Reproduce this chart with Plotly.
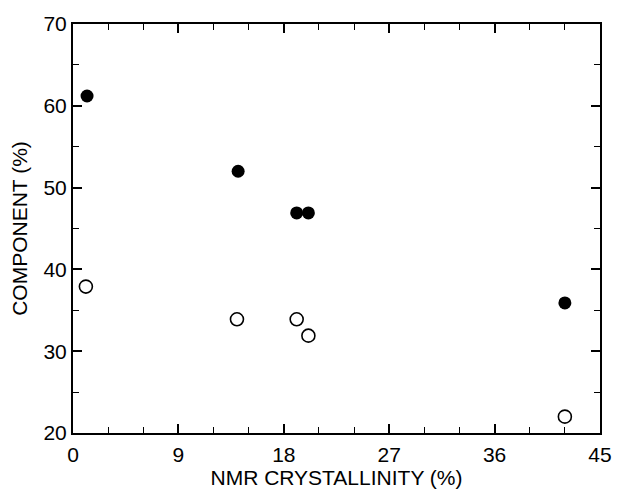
import plotly.graph_objects as go

# Data
crystallinity_filled = [1.2, 14.1, 19.1, 20.1, 42.0]
component_filled = [61.2, 52.0, 46.9, 46.9, 35.9]

crystallinity_open = [1.1, 14.0, 19.1, 20.1, 42.0]
component_open = [37.9, 33.9, 33.9, 31.9, 22.0]

x_ticks = [0, 9, 18, 27, 36, 45]
y_ticks = [20, 30, 40, 50, 60, 70]

fig = go.Figure()
fig.add_trace(go.Scatter(
    x=crystallinity_filled, y=component_filled, mode="markers",
    marker=dict(symbol="circle", size=13, color="black", line=dict(width=0)),
    showlegend=False))
fig.add_trace(go.Scatter(
    x=crystallinity_open, y=component_open, mode="markers",
    marker=dict(symbol="circle-open", size=13, color="black", line=dict(width=1.6)),
    showlegend=False))

font = dict(family="Liberation Sans, Arial, Helvetica, sans-serif", size=21, color="black")

fig.update_layout(
    width=624, height=495,
    margin=dict(l=73, r=14, t=22, b=62),
    paper_bgcolor="white", plot_bgcolor="white",
    font=font,
    xaxis=dict(
        range=[0, 45], tickvals=x_ticks, ticktext=[str(v) for v in x_ticks],
        showline=True, linecolor="black", linewidth=2, mirror="ticks",
        ticks="inside", ticklen=9, tickwidth=1.5, tickcolor="black",
        minor=dict(dtick=3, tick0=0, ticks="inside", ticklen=6, tickwidth=1.2, tickcolor="black"),
        showgrid=False, zeroline=False,
        ticklabelstandoff=2,
        title=dict(text="NMR CRYSTALLINITY (%)", font=font, standoff=2),
        tickfont=font,
    ),
    yaxis=dict(
        range=[20, 70], tickvals=y_ticks, ticktext=[str(v) for v in y_ticks],
        showline=True, linecolor="black", linewidth=2, mirror="ticks",
        ticks="inside", ticklen=9, tickwidth=1.5, tickcolor="black",
        minor=dict(dtick=5, tick0=20, ticks="inside", ticklen=6, tickwidth=1.2, tickcolor="black"),
        showgrid=False, zeroline=False,
        title=dict(text="COMPONENT (%)", font=font, standoff=10),
        tickfont=font,
    ),
)

fig.write_html("out.html", config={"displayModeBar": False},
               post_script="document.body.style.margin='0';")
